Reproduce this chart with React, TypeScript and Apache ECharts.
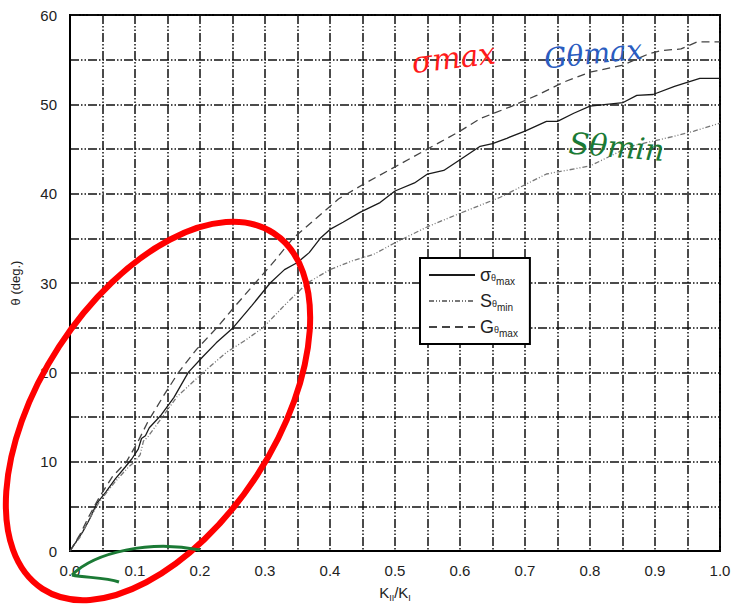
import React, { useEffect, useRef } from "react";
import * as echarts from "echarts";

const xTickLabels = ["0.0", "0.1", "0.2", "0.3", "0.4", "0.5", "0.6", "0.7", "0.8", "0.9", "1.0"];
const yTickLabels = ["0", "10", "20", "30", "40", "50", "60"];

const sigmaMax: number[][] = [
  [0, 0], [0.01, 1.1], [0.02, 2.2], [0.031, 3.7], [0.041, 5.3], [0.055, 6.6], [0.07, 8.1],
  [0.085, 9.4], [0.095, 10.3], [0.105, 11.4], [0.11, 12.6], [0.116, 12.9], [0.122, 13.8],
  [0.14, 15.2], [0.16, 17.2], [0.182, 20], [0.205, 21.8], [0.225, 23.3], [0.251, 25],
  [0.28, 27.5], [0.308, 30], [0.33, 31.5], [0.35, 32.3], [0.368, 33.4], [0.385, 35],
  [0.4, 36], [0.42, 36.8], [0.446, 37.9], [0.477, 39], [0.5, 40.3], [0.53, 41.2],
  [0.55, 42.2], [0.575, 42.6], [0.6, 43.8], [0.631, 45.3], [0.65, 45.6], [0.672, 46.2],
  [0.7, 47], [0.733, 48.1], [0.75, 48.1], [0.775, 49], [0.8, 49.8], [0.851, 50.2],
  [0.872, 51], [0.897, 51.1], [0.93, 52], [0.969, 52.9], [1.0, 52.9],
];

const sThetaMin: number[][] = [
  [0, 0], [0.015, 1.5], [0.03, 3.6], [0.045, 5.5], [0.07, 7.8], [0.09, 9.4], [0.1, 10],
  [0.108, 10.8], [0.113, 12.3], [0.12, 12.8], [0.138, 14.6], [0.165, 17.3], [0.205, 20],
  [0.24, 22.2], [0.27, 23.6], [0.297, 25], [0.33, 27.5], [0.365, 30], [0.4, 31.5],
  [0.435, 32.5], [0.467, 33.2], [0.5, 34.5], [0.55, 36.3], [0.6, 37.8], [0.662, 39.6],
  [0.7, 41], [0.733, 42.2], [0.8, 43.1], [0.862, 45.3], [0.928, 46.4], [0.96, 47],
  [1.0, 47.9],
];

const gThetaMax: number[][] = [
  [0, 0], [0.015, 1.8], [0.03, 4], [0.045, 6], [0.065, 8.3], [0.087, 10], [0.105, 12.3],
  [0.12, 14.5], [0.145, 17.5], [0.167, 20], [0.195, 22.6], [0.226, 25], [0.255, 27.5],
  [0.285, 30], [0.315, 32.5], [0.343, 35], [0.375, 37], [0.413, 39.4], [0.45, 41],
  [0.5, 43], [0.55, 45], [0.6, 47], [0.631, 48.4], [0.68, 49.8], [0.718, 51], [0.76, 52.5],
  [0.8, 53.6], [0.851, 54.4], [0.892, 55.7], [0.908, 56], [0.94, 56.2], [0.965, 57],
  [1.0, 57],
];

const seriesNames = ["σθmax", "Sθmin", "Gθmax"];
const legendRich: Record<string, string> = {
  "σθmax": "{a|σ}{b|θ}{c|max}",
  "Sθmin": "{a|S}{b|θ}{c|min}",
  "Gθmax": "{a|G}{b|θ}{c|max}",
};

const FONT = "Liberation Sans, Arial, sans-serif";
const gridLine = { color: "#111", width: 1.5, type: [9, 2, 1.5, 2, 1.5, 2] as number[] };

export default function App() {
  const ref = useRef<HTMLDivElement>(null);
  useEffect(() => {
    if (!ref.current) return;
    const chart = echarts.init(ref.current, null, { renderer: "svg" });
    chart.setOption({
      animation: false,
      backgroundColor: "#fff",
      grid: {
        left: 70, right: 16, top: 15, bottom: 54,
        show: true, borderColor: "#000", borderWidth: 2,
      },
      xAxis: {
        type: "value", min: 0, max: 1, interval: 0.1,
        name: "{a|K}{s|II}{a|/K}{s|I}",
        nameLocation: "middle", nameGap: 32,
        nameTextStyle: {
          rich: {
            a: { fontSize: 15, fontFamily: FONT, color: "#222" },
            s: { fontSize: 9, fontFamily: FONT, color: "#222", padding: [10, 0, 0, 0] },
          },
        },
        axisLine: { show: true, lineStyle: { color: "#000", width: 2 } },
        axisTick: { show: false },
        axisLabel: {
          margin: 12, fontSize: 15, fontFamily: FONT, color: "#222",
          formatter: (v: number) => xTickLabels[Math.round(v * 10)] ?? "",
        },
        splitLine: { show: true, lineStyle: gridLine },
        minorTick: { show: false, splitNumber: 2 },
        minorSplitLine: { show: true, lineStyle: gridLine },
      },
      yAxis: {
        type: "value", min: 0, max: 60, interval: 10,
        name: "θ (deg.)",
        nameLocation: "middle", nameGap: 48, nameRotate: 90,
        nameTextStyle: { fontSize: 13, fontFamily: FONT, color: "#222" },
        axisLine: { show: true, lineStyle: { color: "#000", width: 2 } },
        axisTick: { show: false },
        axisLabel: {
          margin: 13, fontSize: 15, fontFamily: FONT, color: "#222",
          formatter: (v: number) => yTickLabels[Math.round(v / 10)] ?? "",
        },
        splitLine: { show: true, lineStyle: gridLine },
        minorTick: { show: false, splitNumber: 2 },
        minorSplitLine: { show: true, lineStyle: gridLine },
      },
      legend: {
        orient: "vertical", left: 420, top: 258,
        backgroundColor: "#fff", borderColor: "#000", borderWidth: 2,
        padding: [8, 12, 6, 8], itemWidth: 46, itemHeight: 12, itemGap: 6,
        data: seriesNames,
        itemStyle: { opacity: 0 },
        formatter: (n: string) => legendRich[n] ?? n,
        textStyle: {
          rich: {
            a: { fontSize: 18, fontFamily: FONT, color: "#222" },
            b: { fontSize: 9, fontFamily: FONT, color: "#222", padding: [6, 0, 0, 0] },
            c: { fontSize: 10, fontFamily: FONT, color: "#222", padding: [12, 0, 0, 0] },
          },
        },
      },
      series: [
        {
          name: seriesNames[0], type: "line", data: sigmaMax, symbol: "none", z: 5,
          lineStyle: { color: "#1a1a1a", width: 1.3, type: "solid" },
          itemStyle: { color: "#1a1a1a" },
        },
        {
          name: seriesNames[1], type: "line", data: sThetaMin, symbol: "none", z: 5,
          lineStyle: { color: "#777", width: 1.3, type: [5, 2, 1, 2, 1, 2] },
          itemStyle: { color: "#777" },
        },
        {
          name: seriesNames[2], type: "line", data: gThetaMax, symbol: "none", z: 5,
          lineStyle: { color: "#444", width: 1.3, type: [8, 5] },
          itemStyle: { color: "#444" },
        },
      ],
      graphic: [
        {
          type: "ellipse", x: 158, y: 411, rotation: 0.995, z: 100,
          shape: { cx: 0, cy: 0, rx: 212, ry: 118 },
          style: { fill: "none", stroke: "#ff0000", lineWidth: 6 },
        },
        {
          type: "bezierCurve", z: 100,
          shape: { x1: 200, y1: 550, cpx1: 150, cpy1: 540, cpx2: 95, cpy2: 552, x2: 72, y2: 575 },
          style: { fill: "none", stroke: "#1b7a35", lineWidth: 3 },
        },
        {
          type: "bezierCurve", z: 100,
          shape: { x1: 72, y1: 575, cpx1: 85, cpy1: 578, cpx2: 105, cpy2: 577, x2: 119, y2: 582 },
          style: { fill: "none", stroke: "#1b7a35", lineWidth: 3 },
        },
        {
          type: "text", x: 410, y: 48, z: 100, rotation: 0.12,
          style: { text: "σmax", fill: "#ff1a1a", font: "italic 30px 'DejaVu Serif', serif" },
        },
        {
          type: "text", x: 543, y: 45, z: 100, rotation: 0.1,
          style: { text: "Gθmax", fill: "#2a5cc0", font: "italic 28px 'DejaVu Serif', serif" },
        },
        {
          type: "text", x: 570, y: 128, z: 100, rotation: -0.08,
          style: { text: "Sθmin", fill: "#1b7a35", font: "italic 30px 'DejaVu Serif', serif" },
        },
      ],
    });
    return () => chart.dispose();
  }, []);
  return <div ref={ref} style={{ width: 736, height: 607, position: "absolute", left: 0, top: 0 }} />;
}
